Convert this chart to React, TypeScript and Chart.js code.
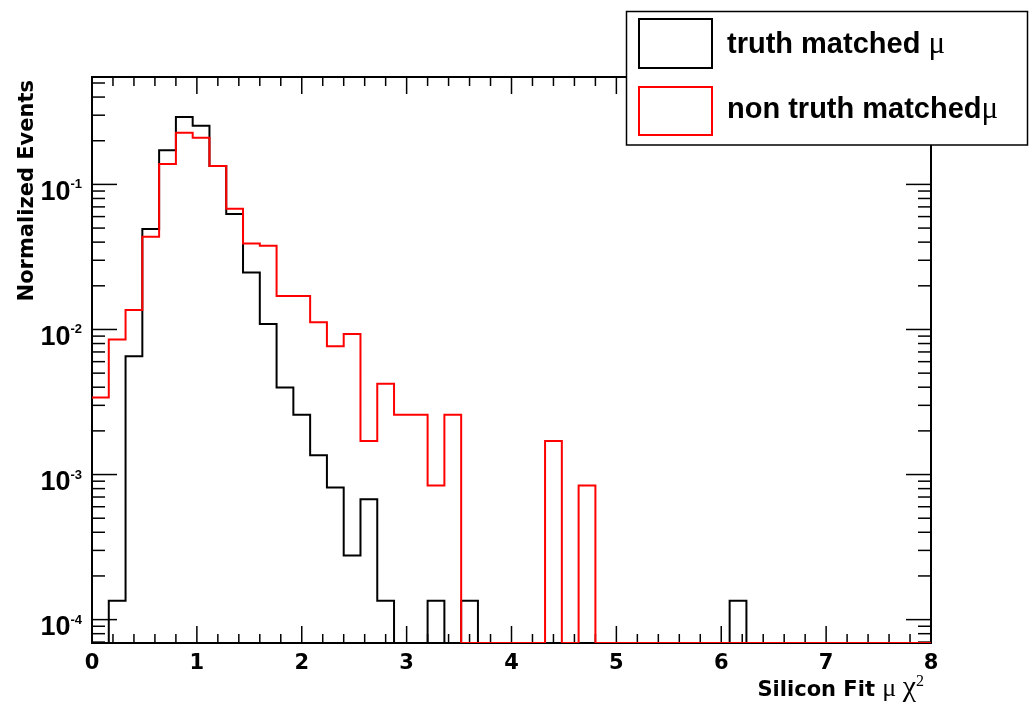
import React, { useEffect, useRef } from 'react';
import { Chart, registerables } from 'chart.js';

Chart.register(...registerables);

// Histogram binning: 50 bins of width 0.16 covering [0, 8]
const BIN_WIDTH = 0.16;
const X_MIN = 0;
const X_MAX = 8;
const Y_MIN = 6.9e-5;
const Y_MAX = 0.55;

// Normalized bin contents, one value per bin (0 = empty bin)
const truthMatched = [
  0, 1.35e-4, 0.00654, 0.0492, 0.172, 0.292, 0.254, 0.134, 0.0624, 0.0247,
  0.0109, 0.00398, 0.00258, 0.00136, 0.000813, 0.000277, 0.000676, 1.35e-4, 0, 0,
  1.35e-4, 0, 1.35e-4, 0, 0, 0, 0, 0, 0, 0,
  0, 0, 0, 0, 0, 0, 0, 0, 1.35e-4, 0,
  0, 0, 0, 0, 0, 0, 0, 0, 0, 0,
];

const nonTruthMatched = [
  0.0034, 0.00853, 0.0136, 0.0435, 0.138, 0.227, 0.21, 0.134, 0.0679, 0.0392,
  0.0377, 0.017, 0.017, 0.0112, 0.00767, 0.00929, 0.0017, 0.00422, 0.00258, 0.00258,
  0.00084, 0.00258, 0, 0, 0, 0, 0, 0.0017, 0, 0.00084,
  0, 0, 0, 0, 0, 0, 0, 0, 0, 0,
  0, 0, 0, 0, 0, 0, 0, 0, 0, 0,
];

const xTickLabels = ['0', '1', '2', '3', '4', '5', '6', '7', '8'];
const yDecadeExponents = [-4, -3, -2, -1];
const legendLabels = ['truth matched ', 'non truth matched'];
const legendColors = ['#000000', '#ff0000'];
const xTitle = 'Silicon Fit ';
const yTitle = 'Normalized Events';

const AXIS_FONT = 'bold 21px "DejaVu Sans"';
const GREEK_FONT = '"Liberation Serif", "DejaVu Serif", serif';

// Histogram outline: one point per bin low edge, held until the next edge.
function outline(values: number[]) {
  const pts = values.map((v, i) => ({ x: X_MIN + i * BIN_WIDTH, y: v > 0 ? v : Y_MIN }));
  const last = values[values.length - 1];
  pts.push({ x: X_MAX, y: last > 0 ? last : Y_MIN });
  pts.push({ x: X_MAX, y: Y_MIN });
  return pts;
}

type Run = { t: string; font: string; dy?: number };

function drawRuns(ctx: CanvasRenderingContext2D, runs: Run[], x: number, y: number, align: 'left' | 'right') {
  ctx.textAlign = 'left';
  ctx.textBaseline = 'alphabetic';
  let total = 0;
  for (const r of runs) {
    ctx.font = r.font;
    total += ctx.measureText(r.t).width;
  }
  let cx = align === 'right' ? x - total : x;
  for (const r of runs) {
    ctx.font = r.font;
    ctx.fillText(r.t, cx, y + (r.dy ?? 0));
    cx += ctx.measureText(r.t).width;
  }
}

function line(ctx: CanvasRenderingContext2D, x1: number, y1: number, x2: number, y2: number) {
  ctx.beginPath();
  ctx.moveTo(x1, y1);
  ctx.lineTo(x2, y2);
  ctx.stroke();
}

// Frame with inward ticks on all four sides (drawn under the histograms)
const framePlugin = {
  id: 'rootFrame',
  beforeDatasetsDraw(chart: any) {
    const { ctx, chartArea } = chart;
    const { left, right, top, bottom } = chartArea;
    const xs = chart.scales.x;
    const ys = chart.scales.y;
    ctx.save();
    ctx.strokeStyle = '#000';
    ctx.lineWidth = 2;
    ctx.strokeRect(left, top, right - left, bottom - top);

    ctx.lineWidth = 1.5;
    for (let k = 0; k <= 40; k++) {
      const px = xs.getPixelForValue(k * 0.2);
      const len = k % 5 === 0 ? 17 : 9;
      line(ctx, px, bottom, px, bottom - len);
      line(ctx, px, top, px, top + len);
    }
    for (let e = -5; e <= 0; e++) {
      for (let m = 1; m <= 9; m++) {
        const v = m * Math.pow(10, e);
        if (v < Y_MIN || v > Y_MAX) continue;
        const py = ys.getPixelForValue(v);
        const len = m === 1 ? 25 : 13;
        line(ctx, left, py, left + len, py);
        line(ctx, right, py, right - len, py);
      }
    }
    ctx.restore();
  },
  afterDraw(chart: any) {
    const { ctx, chartArea } = chart;
    const { bottom } = chartArea;
    const xs = chart.scales.x;
    const ys = chart.scales.y;
    ctx.save();
    ctx.fillStyle = '#000';

    // x tick labels
    ctx.font = AXIS_FONT;
    ctx.textAlign = 'center';
    ctx.textBaseline = 'alphabetic';
    for (const lab of xTickLabels) {
      ctx.fillText(lab, xs.getPixelForValue(Number(lab)), bottom + 26);
    }

    // y decade labels 10^n
    for (const e of yDecadeExponents) {
      const py = ys.getPixelForValue(Math.pow(10, e));
      drawRuns(
        ctx,
        [
          { t: '10', font: 'bold 27px "Liberation Sans"' },
          { t: String(e), font: 'bold 13px "Liberation Sans"', dy: -11.5 },
        ],
        82,
        py + 15.5,
        'right'
      );
    }

    // x axis title
    drawRuns(
      ctx,
      [
        { t: xTitle, font: AXIS_FONT },
        { t: 'μ ', font: `26px ${GREEK_FONT}` },
        { t: 'χ', font: `30px ${GREEK_FONT}` },
        { t: '2', font: `16px ${GREEK_FONT}`, dy: -10 },
      ],
      924,
      696,
      'right'
    );

    // y axis title
    ctx.save();
    ctx.translate(33, 80);
    ctx.rotate(-Math.PI / 2);
    ctx.font = AXIS_FONT;
    ctx.textAlign = 'right';
    ctx.fillText(yTitle, 0, 0);
    ctx.restore();

    // legend box
    ctx.fillStyle = '#fff';
    ctx.fillRect(626, 11, 402, 134);
    ctx.strokeStyle = '#000';
    ctx.lineWidth = 1.5;
    ctx.strokeRect(626.5, 11.5, 401, 133.5);
    const rows = [
      { y0: 19, y1: 68, base: 53 },
      { y0: 87, y1: 135, base: 118 },
    ];
    rows.forEach((r, i) => {
      ctx.strokeStyle = legendColors[i];
      ctx.lineWidth = 2;
      ctx.strokeRect(639, r.y0, 73, r.y1 - r.y0);
      ctx.fillStyle = '#000';
      drawRuns(
        ctx,
        [
          { t: legendLabels[i], font: 'bold 29px "Liberation Sans"' },
          { t: 'μ', font: `31px ${GREEK_FONT}` },
        ],
        727,
        r.base,
        'left'
      );
    });
    ctx.restore();
  },
};

export default function App() {
  const canvasRef = useRef<HTMLCanvasElement | null>(null);

  useEffect(() => {
    document.body.style.margin = '0';
    const canvas = canvasRef.current;
    if (!canvas) return;
    const chart = new Chart(canvas, {
      type: 'line',
      data: {
        datasets: [
          {
            label: 'non truth matched μ',
            data: outline(nonTruthMatched),
            borderColor: '#ff0000',
            borderWidth: 2,
            stepped: 'before',
            pointRadius: 0,
            fill: false,
            order: 0,
          },
          {
            label: 'truth matched μ',
            data: outline(truthMatched),
            borderColor: '#000000',
            borderWidth: 2,
            stepped: 'before',
            pointRadius: 0,
            fill: false,
            order: 1,
          },
        ],
      },
      options: {
        responsive: false,
        animation: false,
        devicePixelRatio: 1,
        events: [],
        layout: { padding: { left: 92, top: 77, right: 98, bottom: 59 } },
        scales: {
          x: { type: 'linear', min: X_MIN, max: X_MAX, display: false },
          y: { type: 'logarithmic', min: Y_MIN, max: Y_MAX, display: false },
        },
        plugins: {
          legend: { display: false },
          tooltip: { enabled: false },
        },
      },
      plugins: [framePlugin],
    } as any);
    return () => chart.destroy();
  }, []);

  return (
    <div style={{ width: 1029, height: 702, background: '#fff' }}>
      <canvas ref={canvasRef} width={1029} height={702} style={{ display: 'block' }} />
    </div>
  );
}
